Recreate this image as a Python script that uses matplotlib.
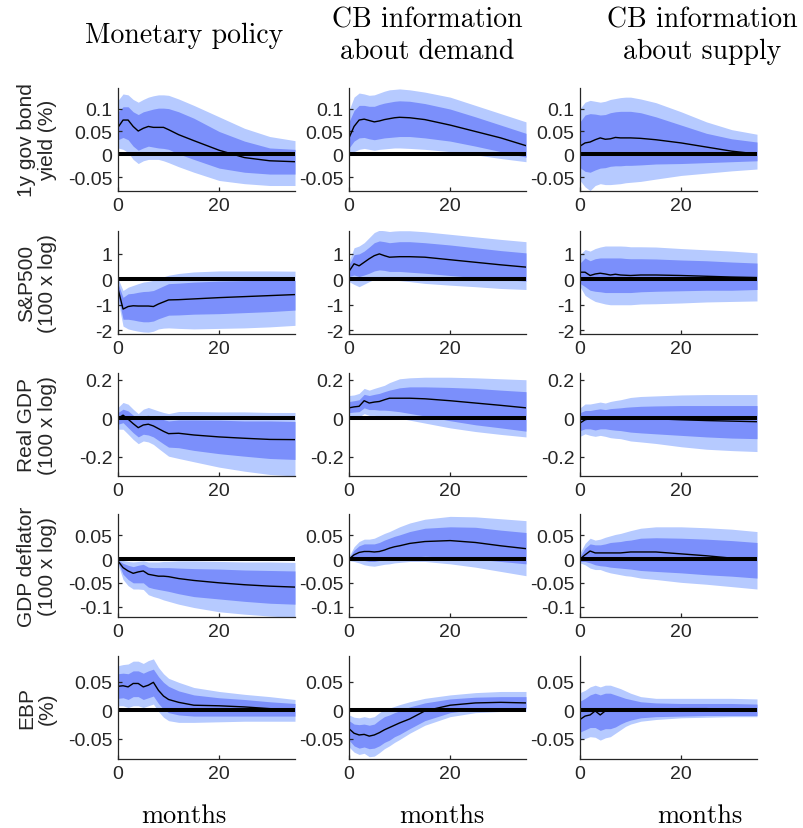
import matplotlib
matplotlib.use('Agg')
import matplotlib.pyplot as plt

plt.rcParams['axes.unicode_minus'] = False

months = [0, 1, 2, 3, 4, 5, 6, 7, 8, 9, 10, 12, 15, 20, 25, 30, 35]

shocks = ['Monetary policy', 'CB information\nabout demand', 'CB information\nabout supply']
variables = ['1y gov bond\nyield (%)', 'S&P500\n(100 x log)', 'Real GDP\n(100 x log)',
             'GDP deflator\n(100 x log)', 'EBP\n(%)']
ylims = [(-0.08, 0.145), (-2.15, 1.9), (-0.3, 0.235), (-0.122, 0.095), (-0.085, 0.095)]
yticks = [[-0.05, 0, 0.05, 0.1], [-2, -1, 0, 1], [-0.2, 0, 0.2],
          [-0.1, -0.05, 0, 0.05], [-0.05, 0, 0.05]]
xticks = [0, 20]

# 1y gov bond yield
yield_mp_med = [0.059, 0.075, 0.075, 0.061, 0.051, 0.057, 0.061, 0.059, 0.059, 0.059, 0.054, 0.043, 0.030, 0.009, -0.007, -0.014, -0.016]
yield_mp_out_hi = [0.118, 0.132, 0.130, 0.120, 0.114, 0.120, 0.125, 0.128, 0.130, 0.130, 0.129, 0.121, 0.107, 0.082, 0.057, 0.039, 0.030]
yield_mp_in_hi = [0.093, 0.104, 0.104, 0.093, 0.087, 0.093, 0.096, 0.099, 0.101, 0.101, 0.100, 0.093, 0.079, 0.050, 0.029, 0.014, 0.011]
yield_mp_in_lo = [0.032, 0.037, 0.032, 0.018, 0.009, 0.014, 0.018, 0.016, 0.014, 0.013, 0.011, 0.001, -0.011, -0.030, -0.039, -0.043, -0.043]
yield_mp_out_lo = [0.014, 0.011, 0.004, -0.011, -0.020, -0.014, -0.011, -0.011, -0.011, -0.014, -0.018, -0.027, -0.039, -0.057, -0.064, -0.068, -0.068]

yield_dem_med = [0.036, 0.061, 0.075, 0.077, 0.074, 0.071, 0.073, 0.076, 0.078, 0.080, 0.081, 0.080, 0.076, 0.064, 0.050, 0.036, 0.019]
yield_dem_out_hi = [0.096, 0.125, 0.134, 0.132, 0.129, 0.130, 0.134, 0.138, 0.141, 0.142, 0.143, 0.141, 0.136, 0.125, 0.107, 0.089, 0.071]
yield_dem_in_hi = [0.071, 0.096, 0.107, 0.107, 0.105, 0.105, 0.109, 0.112, 0.114, 0.116, 0.117, 0.116, 0.111, 0.099, 0.082, 0.064, 0.046]
yield_dem_in_lo = [0.014, 0.029, 0.036, 0.037, 0.034, 0.032, 0.034, 0.036, 0.037, 0.038, 0.039, 0.039, 0.036, 0.029, 0.018, 0.006, -0.006]
yield_dem_out_lo = [-0.004, 0.006, 0.011, 0.013, 0.011, 0.009, 0.011, 0.012, 0.013, 0.014, 0.014, 0.013, 0.011, 0.006, -0.001, -0.009, -0.016]

yield_sup_med = [0.018, 0.025, 0.027, 0.032, 0.036, 0.033, 0.034, 0.037, 0.036, 0.036, 0.036, 0.035, 0.032, 0.025, 0.016, 0.007, 0.001]
yield_sup_out_hi = [0.100, 0.114, 0.118, 0.116, 0.114, 0.116, 0.120, 0.122, 0.124, 0.125, 0.125, 0.121, 0.113, 0.093, 0.071, 0.054, 0.044]
yield_sup_in_hi = [0.071, 0.086, 0.089, 0.088, 0.086, 0.087, 0.091, 0.093, 0.094, 0.094, 0.094, 0.091, 0.082, 0.064, 0.046, 0.034, 0.027]
yield_sup_in_lo = [-0.029, -0.037, -0.039, -0.034, -0.030, -0.029, -0.026, -0.025, -0.025, -0.024, -0.024, -0.023, -0.021, -0.020, -0.018, -0.016, -0.014]
yield_sup_out_lo = [-0.057, -0.071, -0.079, -0.068, -0.064, -0.066, -0.066, -0.065, -0.064, -0.062, -0.061, -0.059, -0.054, -0.046, -0.041, -0.036, -0.032]

# S&P500
sp_mp_med = [-0.37, -1.17, -1.07, -1.04, -1.05, -1.05, -1.05, -1.07, -0.97, -0.89, -0.81, -0.80, -0.77, -0.72, -0.68, -0.64, -0.60]
sp_mp_out_hi = [0.03, -0.44, -0.31, -0.24, -0.17, -0.11, -0.08, -0.04, 0.03, 0.10, 0.16, 0.23, 0.29, 0.33, 0.33, 0.33, 0.32]
sp_mp_in_hi = [-0.17, -0.71, -0.57, -0.55, -0.51, -0.48, -0.47, -0.44, -0.35, -0.26, -0.17, -0.15, -0.11, -0.07, -0.05, -0.04, -0.04]
sp_mp_in_lo = [-0.64, -1.57, -1.57, -1.60, -1.64, -1.67, -1.67, -1.64, -1.55, -1.48, -1.41, -1.40, -1.37, -1.35, -1.31, -1.27, -1.21]
sp_mp_out_lo = [-0.84, -1.84, -1.95, -2.00, -2.04, -2.07, -2.08, -2.04, -1.95, -1.92, -1.91, -1.93, -1.95, -1.93, -1.91, -1.87, -1.81]

sp_dem_med = [0.31, 0.61, 0.53, 0.67, 0.81, 0.93, 1.00, 0.93, 0.87, 0.88, 0.89, 0.89, 0.87, 0.77, 0.67, 0.57, 0.48]
sp_dem_out_hi = [0.71, 1.24, 1.31, 1.44, 1.64, 1.84, 1.93, 1.91, 1.88, 1.90, 1.91, 1.91, 1.87, 1.77, 1.67, 1.57, 1.48]
sp_dem_in_hi = [0.57, 0.97, 1.00, 1.11, 1.27, 1.44, 1.51, 1.48, 1.44, 1.46, 1.48, 1.48, 1.44, 1.35, 1.24, 1.13, 1.04]
sp_dem_in_lo = [0.11, 0.17, 0.11, 0.17, 0.24, 0.33, 0.37, 0.35, 0.31, 0.31, 0.31, 0.28, 0.24, 0.15, 0.07, 0.00, -0.07]
sp_dem_out_lo = [-0.09, -0.20, -0.29, -0.19, -0.09, 0.00, 0.04, 0.01, -0.03, -0.04, -0.05, -0.09, -0.16, -0.23, -0.29, -0.36, -0.40]

sp_sup_med = [0.28, 0.28, 0.15, 0.21, 0.24, 0.21, 0.17, 0.20, 0.17, 0.16, 0.15, 0.17, 0.17, 0.15, 0.12, 0.09, 0.07]
sp_sup_out_hi = [0.97, 1.17, 1.11, 1.21, 1.27, 1.31, 1.31, 1.31, 1.31, 1.30, 1.28, 1.28, 1.27, 1.21, 1.16, 1.11, 1.04]
sp_sup_in_hi = [0.64, 0.84, 0.73, 0.81, 0.84, 0.84, 0.84, 0.84, 0.84, 0.82, 0.81, 0.81, 0.80, 0.76, 0.73, 0.68, 0.64]
sp_sup_in_lo = [-0.16, -0.29, -0.43, -0.47, -0.49, -0.52, -0.52, -0.52, -0.52, -0.52, -0.52, -0.49, -0.47, -0.45, -0.43, -0.43, -0.40]
sp_sup_out_lo = [-0.29, -0.63, -0.76, -0.87, -0.92, -0.97, -1.00, -1.00, -1.00, -1.00, -1.00, -0.97, -0.96, -0.93, -0.89, -0.87, -0.85]

# Real GDP
gdp_mp_med = [0.000, 0.016, -0.005, -0.028, -0.049, -0.035, -0.031, -0.040, -0.054, -0.068, -0.080, -0.078, -0.087, -0.097, -0.104, -0.110, -0.111]
gdp_mp_out_hi = [0.056, 0.082, 0.073, 0.047, 0.024, 0.047, 0.056, 0.047, 0.038, 0.030, 0.024, 0.035, 0.035, 0.033, 0.033, 0.030, 0.030]
gdp_mp_in_hi = [0.030, 0.047, 0.038, 0.016, -0.005, 0.012, 0.016, 0.007, 0.000, -0.007, -0.014, -0.009, -0.009, -0.010, -0.014, -0.014, -0.017]
gdp_mp_in_lo = [-0.031, -0.023, -0.049, -0.075, -0.097, -0.083, -0.087, -0.097, -0.115, -0.133, -0.150, -0.153, -0.167, -0.184, -0.197, -0.209, -0.214]
gdp_mp_out_lo = [-0.057, -0.057, -0.083, -0.110, -0.132, -0.118, -0.123, -0.136, -0.157, -0.177, -0.197, -0.209, -0.226, -0.254, -0.275, -0.292, -0.300]

gdp_dem_med = [0.054, 0.059, 0.062, 0.091, 0.079, 0.084, 0.087, 0.096, 0.104, 0.104, 0.104, 0.104, 0.101, 0.091, 0.079, 0.067, 0.054]
gdp_dem_out_hi = [0.118, 0.121, 0.129, 0.155, 0.146, 0.155, 0.163, 0.171, 0.185, 0.195, 0.205, 0.210, 0.213, 0.213, 0.210, 0.205, 0.200]
gdp_dem_in_hi = [0.087, 0.091, 0.096, 0.124, 0.118, 0.124, 0.129, 0.138, 0.146, 0.152, 0.158, 0.163, 0.163, 0.160, 0.155, 0.146, 0.138]
gdp_dem_in_lo = [0.029, 0.032, 0.034, 0.054, 0.045, 0.045, 0.042, 0.042, 0.040, 0.037, 0.034, 0.025, 0.012, -0.013, -0.034, -0.050, -0.067]
gdp_dem_out_lo = [0.003, 0.007, 0.007, 0.024, 0.015, 0.015, 0.012, 0.012, 0.008, 0.004, 0.000, -0.010, -0.025, -0.050, -0.069, -0.084, -0.097]

gdp_sup_med = [-0.025, -0.008, -0.002, 0.000, 0.003, 0.003, 0.003, 0.003, 0.003, 0.002, 0.000, -0.002, -0.003, -0.008, -0.012, -0.015, -0.018]
gdp_sup_out_hi = [0.054, 0.074, 0.074, 0.079, 0.084, 0.079, 0.087, 0.092, 0.096, 0.102, 0.108, 0.113, 0.116, 0.121, 0.123, 0.123, 0.123]
gdp_sup_in_hi = [0.029, 0.040, 0.040, 0.045, 0.049, 0.045, 0.050, 0.052, 0.054, 0.057, 0.059, 0.062, 0.064, 0.066, 0.066, 0.066, 0.066]
gdp_sup_in_lo = [-0.064, -0.055, -0.055, -0.061, -0.055, -0.055, -0.059, -0.062, -0.064, -0.068, -0.072, -0.076, -0.081, -0.089, -0.097, -0.103, -0.106]
gdp_sup_out_lo = [-0.094, -0.081, -0.089, -0.094, -0.089, -0.094, -0.101, -0.104, -0.106, -0.112, -0.118, -0.123, -0.131, -0.148, -0.161, -0.168, -0.173]

# GDP deflator
defl_mp_med = [-0.004, -0.018, -0.025, -0.030, -0.027, -0.025, -0.032, -0.034, -0.036, -0.036, -0.037, -0.041, -0.045, -0.050, -0.054, -0.057, -0.059]
defl_mp_out_hi = [0.000, -0.003, -0.005, -0.006, -0.005, -0.004, -0.006, -0.006, -0.006, -0.005, -0.005, -0.004, -0.004, -0.005, -0.006, -0.006, -0.007]
defl_mp_in_hi = [-0.002, -0.009, -0.013, -0.016, -0.013, -0.011, -0.017, -0.018, -0.018, -0.018, -0.018, -0.019, -0.020, -0.021, -0.023, -0.024, -0.025]
defl_mp_in_lo = [-0.007, -0.032, -0.043, -0.050, -0.050, -0.050, -0.059, -0.062, -0.064, -0.066, -0.068, -0.073, -0.079, -0.084, -0.089, -0.093, -0.095]
defl_mp_out_lo = [-0.011, -0.043, -0.056, -0.063, -0.063, -0.064, -0.075, -0.079, -0.082, -0.086, -0.089, -0.095, -0.102, -0.111, -0.116, -0.120, -0.123]

defl_dem_med = [0.000, 0.009, 0.014, 0.016, 0.016, 0.015, 0.016, 0.019, 0.023, 0.026, 0.028, 0.033, 0.037, 0.039, 0.035, 0.028, 0.022]
defl_dem_out_hi = [0.006, 0.026, 0.037, 0.042, 0.042, 0.044, 0.049, 0.054, 0.058, 0.063, 0.068, 0.076, 0.084, 0.090, 0.089, 0.085, 0.081]
defl_dem_in_hi = [0.002, 0.019, 0.028, 0.032, 0.032, 0.032, 0.035, 0.040, 0.044, 0.048, 0.051, 0.058, 0.065, 0.068, 0.067, 0.061, 0.056]
defl_dem_in_lo = [-0.001, 0.000, -0.001, -0.003, -0.005, -0.005, -0.003, -0.001, 0.000, 0.001, 0.002, 0.004, 0.006, 0.004, 0.000, -0.005, -0.010]
defl_dem_out_lo = [-0.003, -0.005, -0.008, -0.012, -0.014, -0.015, -0.013, -0.011, -0.010, -0.008, -0.007, -0.005, -0.005, -0.010, -0.017, -0.026, -0.035]

defl_sup_med = [0.000, 0.009, 0.017, 0.013, 0.013, 0.013, 0.013, 0.013, 0.013, 0.014, 0.015, 0.015, 0.015, 0.011, 0.007, 0.002, 0.000]
defl_sup_out_hi = [0.013, 0.033, 0.044, 0.040, 0.042, 0.046, 0.049, 0.052, 0.054, 0.057, 0.060, 0.065, 0.068, 0.068, 0.066, 0.063, 0.058]
defl_sup_in_hi = [0.006, 0.023, 0.032, 0.030, 0.030, 0.032, 0.035, 0.036, 0.037, 0.039, 0.040, 0.044, 0.045, 0.044, 0.042, 0.039, 0.035]
defl_sup_in_lo = [-0.005, -0.005, -0.008, -0.012, -0.014, -0.015, -0.017, -0.018, -0.019, -0.020, -0.021, -0.024, -0.026, -0.029, -0.033, -0.036, -0.040]
defl_sup_out_lo = [-0.008, -0.012, -0.019, -0.022, -0.022, -0.026, -0.029, -0.031, -0.033, -0.035, -0.036, -0.040, -0.043, -0.049, -0.053, -0.058, -0.063]

# EBP
ebp_mp_med = [0.042, 0.043, 0.041, 0.047, 0.047, 0.041, 0.044, 0.049, 0.035, 0.025, 0.019, 0.014, 0.009, 0.008, 0.006, 0.003, 0.001]
ebp_mp_out_hi = [0.078, 0.080, 0.081, 0.086, 0.086, 0.082, 0.087, 0.090, 0.075, 0.064, 0.056, 0.049, 0.040, 0.033, 0.028, 0.024, 0.019]
ebp_mp_in_hi = [0.064, 0.065, 0.064, 0.069, 0.069, 0.065, 0.069, 0.072, 0.059, 0.049, 0.042, 0.034, 0.027, 0.022, 0.019, 0.015, 0.012]
ebp_mp_in_lo = [0.021, 0.022, 0.019, 0.024, 0.024, 0.019, 0.022, 0.025, 0.012, 0.002, -0.004, -0.008, -0.010, -0.010, -0.010, -0.010, -0.010]
ebp_mp_out_lo = [0.008, 0.008, 0.005, 0.008, 0.008, 0.005, 0.008, 0.011, -0.002, -0.012, -0.018, -0.021, -0.021, -0.020, -0.019, -0.019, -0.019]

ebp_dem_med = [-0.032, -0.040, -0.043, -0.042, -0.045, -0.043, -0.039, -0.034, -0.030, -0.026, -0.022, -0.015, -0.001, 0.009, 0.013, 0.014, 0.013]
ebp_dem_out_hi = [-0.008, -0.012, -0.013, -0.011, -0.013, -0.011, -0.004, 0.002, 0.004, 0.007, 0.010, 0.015, 0.021, 0.027, 0.031, 0.033, 0.033]
ebp_dem_in_hi = [-0.018, -0.024, -0.025, -0.024, -0.026, -0.024, -0.017, -0.011, -0.008, -0.004, -0.001, 0.006, 0.013, 0.020, 0.023, 0.024, 0.024]
ebp_dem_in_lo = [-0.052, -0.062, -0.066, -0.064, -0.067, -0.066, -0.062, -0.056, -0.052, -0.046, -0.042, -0.032, -0.018, -0.004, 0.002, 0.003, 0.003]
ebp_dem_out_lo = [-0.064, -0.073, -0.077, -0.075, -0.081, -0.080, -0.074, -0.067, -0.062, -0.056, -0.051, -0.040, -0.026, -0.011, -0.004, -0.002, -0.002]

ebp_sup_med = [-0.016, -0.010, -0.008, -0.001, -0.008, -0.001, 0.000, 0.000, 0.000, 0.001, 0.001, 0.001, 0.002, 0.003, 0.003, 0.002, 0.002]
ebp_sup_out_hi = [0.031, 0.035, 0.041, 0.044, 0.041, 0.044, 0.044, 0.041, 0.038, 0.034, 0.030, 0.024, 0.021, 0.021, 0.021, 0.021, 0.020]
ebp_sup_in_hi = [0.016, 0.021, 0.027, 0.030, 0.027, 0.030, 0.030, 0.027, 0.024, 0.021, 0.019, 0.015, 0.013, 0.012, 0.012, 0.012, 0.011]
ebp_sup_in_lo = [-0.038, -0.034, -0.030, -0.030, -0.035, -0.032, -0.032, -0.029, -0.024, -0.020, -0.017, -0.013, -0.011, -0.010, -0.009, -0.009, -0.009]
ebp_sup_out_lo = [-0.052, -0.049, -0.046, -0.047, -0.052, -0.048, -0.046, -0.040, -0.034, -0.028, -0.024, -0.019, -0.016, -0.013, -0.012, -0.011, -0.011]

g = globals()
var_keys = ['yield', 'sp', 'gdp', 'defl', 'ebp']
shock_keys = ['mp', 'dem', 'sup']

outer_color = '#b6caff'
inner_color = '#7b8ffb'
axis_color = '#262626'

fig = plt.figure(figsize=(8.04, 8.29), dpi=100)
W, H = 804.0, 829.0
col_left = [118, 349, 580]
row_top = [89, 232, 374, 515, 657]
ax_w, ax_h = 177, 103

for r, vk in enumerate(var_keys):
    for c, sk in enumerate(shock_keys):
        pre = vk + '_' + sk + '_'
        ax = fig.add_axes([col_left[c] / W, 1 - (row_top[r] + ax_h) / H, ax_w / W, ax_h / H])
        ax.fill_between(months, g[pre + 'out_lo'], g[pre + 'out_hi'], color=outer_color, lw=0)
        ax.fill_between(months, g[pre + 'in_lo'], g[pre + 'in_hi'], color=inner_color, lw=0)
        ax.plot([months[0], months[-1]], [0, 0], color='black', lw=2.9, solid_capstyle='butt')
        ax.plot(months, g[pre + 'med'], color='black', lw=1.0)
        ax.set_xlim(0, 35)
        ax.set_ylim(*ylims[r])
        ax.set_xticks(xticks)
        ax.set_yticks(yticks[r])
        ax.set_yticklabels(['%g' % t for t in yticks[r]])
        for side in ['top', 'right']:
            ax.spines[side].set_visible(False)
        for side in ['left', 'bottom']:
            ax.spines[side].set_color(axis_color)
            ax.spines[side].set_linewidth(0.9)
        ax.tick_params(direction='in', length=3, width=0.9, color=axis_color,
                       labelcolor=axis_color, labelsize=14, pad=4)
        for lab in ax.get_xticklabels() + ax.get_yticklabels():
            lab.set_family('Liberation Sans')

    fig.text(37 / W, 1 - (row_top[r] + ax_h / 2) / H, variables[r], rotation=90,
             ha='center', va='center', multialignment='center', fontsize=15,
             family='Liberation Sans', color=axis_color, linespacing=1.15)

title_x = [184, 427, 702]
months_x = [184, 442, 700]
for c in range(3):
    fig.text(title_x[c] / W, 1 - 36 / H, shocks[c], ha='center', va='center',
             multialignment='center', fontsize=20, family='cmr10', linespacing=1.25)
    fig.text(months_x[c] / W, 1 - 816 / H, 'months', ha='center', va='center',
             fontsize=19, family='cmr10')

fig.savefig('out.png', dpi=100)
